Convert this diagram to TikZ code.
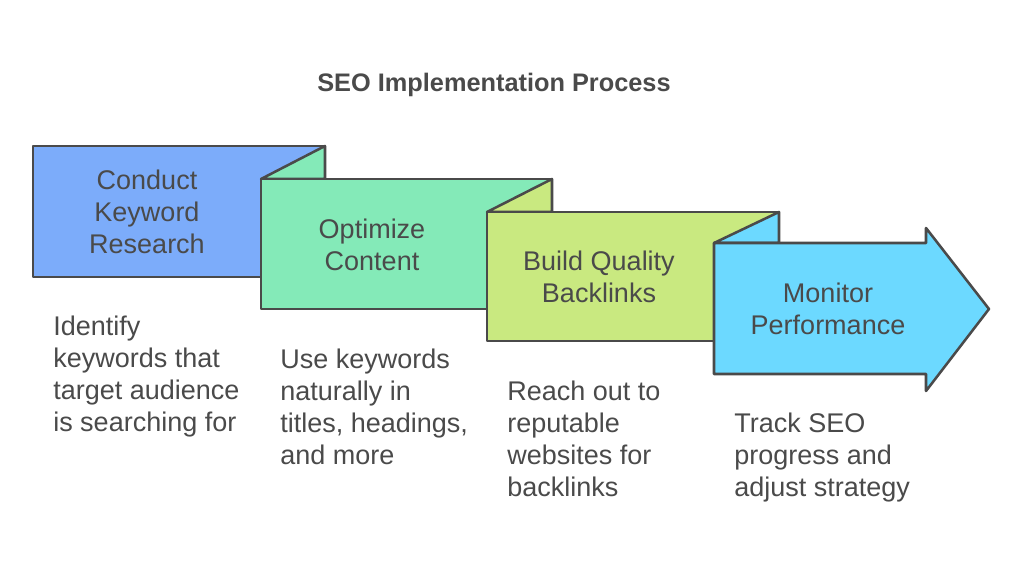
\documentclass[tikz,border=0pt]{standalone}
\usepackage{fontspec}
\setmainfont{Liberation Sans}
\definecolor{inkgray}{RGB}{74,74,74}
\definecolor{keyblue}{RGB}{124,172,250}
\definecolor{contgreen}{RGB}{132,234,184}
\definecolor{linklime}{RGB}{201,233,128}
\definecolor{moncyan}{RGB}{108,217,255}
\tikzset{
  sheet/.style={draw=inkgray, line width=1.9pt, line join=round},
  steplabel/.style={inner sep=0.75pt, align=center, text=inkgray, font=\fontsize{20.25}{24}\selectfont},
  desclabel/.style={anchor=north west, inner sep=0pt, align=left, text=inkgray, font=\fontsize{20.25}{24}\selectfont},
}
\begin{document}
\begin{tikzpicture}[x=0.75pt,y=0.75pt,yscale=-1,xscale=1]
\useasboundingbox (0,0) rectangle (1024,570);
%Title
\node [inner sep=0pt, text=inkgray, font=\fontsize{19}{22}\selectfont\bfseries] (title) at (494,85) {SEO Implementation Process};
%Shape: Rectangle [keyword]
\draw [sheet, fill=keyblue] (33,146) rectangle (325,277);
%Shape: Flap [content]
\draw [sheet, fill=contgreen] (261,179) -- (325,146) -- (325,179) -- cycle;
%Shape: Rectangle [content]
\draw [sheet, fill=contgreen] (261,179) rectangle (552,309);
%Shape: Flap [backlinks]
\draw [sheet, fill=linklime] (487,212) -- (552,179) -- (552,212) -- cycle;
%Shape: Rectangle [backlinks]
\draw [sheet, fill=linklime] (487,212) rectangle (779,341);
%Shape: Flap [monitor]
\draw [sheet, fill=moncyan] (714,243) -- (779,212) -- (779,243) -- cycle;
%Shape: Arrow [monitor]
\draw [sheet, fill=moncyan] (714,243) -- (926,243) -- (926,228) -- (989,309) -- (926,391) -- (926,374) -- (714,374) -- cycle;
%Step labels
\node [steplabel] (keyword) at (147,212) {Conduct\\Keyword\\Research};
\node [steplabel] (content) at (372,245) {Optimize\\Content};
\node [steplabel] (backlinks) at (599,277) {Build Quality\\Backlinks};
\node [steplabel] (monitor) at (828,309) {Monitor\\Performance};
%Descriptions
\node [desclabel] (keyworddesc) at (53,316) {Identify\\keywords that\\target audience\\is searching for};
\node [desclabel] (contentdesc) at (280,349) {Use keywords\\naturally in\\titles, headings,\\and more};
\node [desclabel] (backlinksdesc) at (507,381) {Reach out to\\reputable\\websites for\\backlinks};
\node [desclabel] (monitordesc) at (734,413) {Track SEO\\progress and\\adjust strategy};
\end{tikzpicture}
\end{document}
